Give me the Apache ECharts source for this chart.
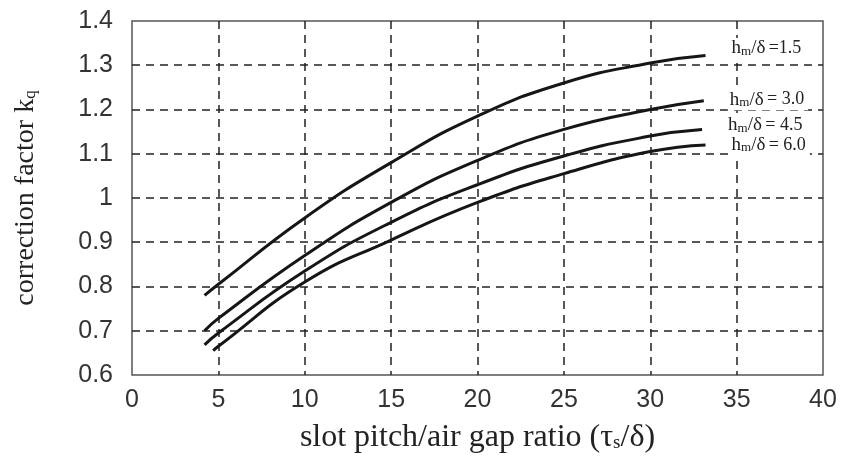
<!DOCTYPE html>
<html>
<head>
<meta charset="utf-8">
<script src="https://cdn.jsdelivr.net/npm/echarts@6/dist/echarts.min.js"></script>
<style>
  html, body { margin: 0; padding: 0; background: #fff; }
  #chart { width: 861px; height: 457px; }
</style>
</head>
<body>
<div id="chart"></div>
<script>
// curve data (x = tau_s/delta, y = k_q)
const x15 = [4.2, 5, 10, 15, 20, 25, 30, 33.2]
const y15 = [0.78, 0.805, 0.955, 1.08, 1.185, 1.26, 1.305, 1.322]
const x30 = [4.2, 5, 10, 15, 20, 25, 30, 33.1]
const y30 = [0.70, 0.728, 0.87, 0.99, 1.085, 1.155, 1.20, 1.22]
const x45 = [4.2, 5, 10, 15, 20, 25, 30, 33]
const y45 = [0.668, 0.695, 0.835, 0.945, 1.03, 1.095, 1.14, 1.155]
const x60 = [4.7, 5, 10, 15, 20, 25, 30, 33.2]
const y60 = [0.655, 0.665, 0.81, 0.905, 0.99, 1.055, 1.105, 1.12]
const ratios = ['=1.5', '= 3.0', '= 4.5', '= 6.0']

const serif = '"Liberation Serif", "DejaVu Serif", serif'
const sans = '"Liberation Sans", Arial, sans-serif'

const pairs = (xs, ys) => xs.map((x, i) => [x, ys[i]])

const makeSeries = (xs, ys, ratio, offset) => ({
  type: 'line',
  data: pairs(xs, ys),
  smooth: true,
  showSymbol: false,
  lineStyle: { color: '#161616', width: 3 },
  endLabel: {
    show: true,
    distance: 24,
    offset: offset,
    backgroundColor: '#fff',
    padding: [1, 4, 1, 2],
    formatter: '{a|h}{b|m}{a|/δ} {c|' + ratio + '}',
    rich: {
      a: { fontFamily: serif, fontSize: 19, color: '#222' },
      b: { fontFamily: serif, fontSize: 13, color: '#222', padding: [6, 0, 0, 0] },
      c: { fontFamily: serif, fontSize: 18, color: '#222' },
    },
  },
})

const chart = echarts.init(document.getElementById('chart'))
chart.setOption({
  animation: false,
  grid: {
    left: 132, right: 38, top: 21, bottom: 82,
    outerBoundsMode: 'none',
    show: true, borderColor: '#555', borderWidth: 1.5,
  },
  xAxis: {
    type: 'value',
    min: 0, max: 40, interval: 5,
    name: 'slot pitch/air gap ratio (τ{s|s}/δ)',
    nameLocation: 'middle',
    nameGap: 47,
    nameTextStyle: {
      fontFamily: serif, fontSize: 32, color: '#222',
      rich: { s: { fontFamily: serif, fontSize: 19, color: '#222', padding: [10, 0, 0, 0] } },
    },
    axisLine: { show: false },
    axisTick: { show: false },
    axisLabel: { fontFamily: sans, fontSize: 25, color: '#333', margin: 13 },
    splitLine: {
      show: true, showMinLine: false, showMaxLine: false,
      lineStyle: { color: '#222', width: 1.5, type: [8, 6] },
    },
  },
  yAxis: {
    type: 'value',
    min: 0.6, max: 1.4, interval: 0.1,
    name: 'correction factor k{q|q}',
    nameLocation: 'middle',
    nameGap: 92,
    nameTextStyle: {
      fontFamily: serif, fontSize: 28, color: '#222',
      rich: { q: { fontFamily: serif, fontSize: 17, color: '#222', padding: [9, 0, 0, 0] } },
    },
    axisLine: { show: false },
    axisTick: { show: false },
    axisLabel: { fontFamily: sans, fontSize: 25, color: '#333', margin: 19 },
    splitLine: {
      show: true, showMinLine: false, showMaxLine: false,
      lineStyle: { color: '#222', width: 1.5, type: [8, 6] },
    },
  },
  series: [
    makeSeries(x15, y15, ratios[0], [0, -7]),
    makeSeries(x30, y30, ratios[1], [0, -1]),
    makeSeries(x45, y45, ratios[2], [0, -4]),
    makeSeries(x60, y60, ratios[3], [0, 0]),
  ],
})
</script>
</body>
</html>
